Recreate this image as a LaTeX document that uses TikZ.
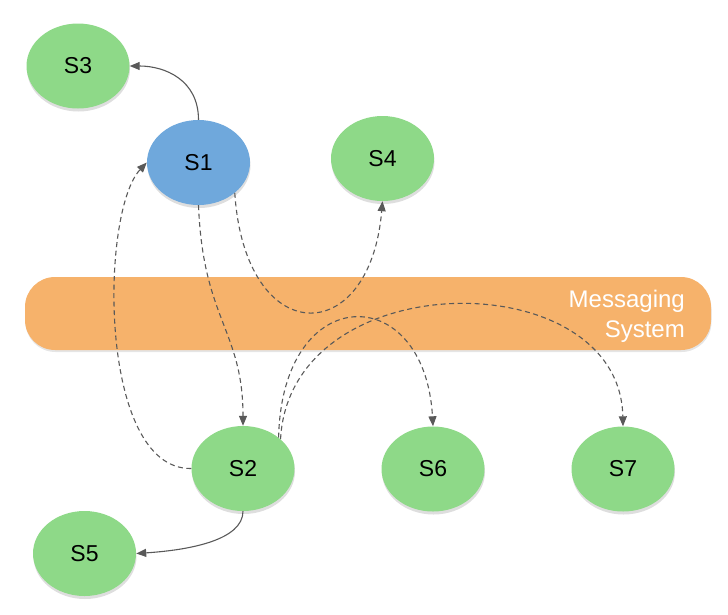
\documentclass[tikz,border=0pt]{standalone}
\usepackage{fontspec}
\setmainfont{Liberation Sans}
\usetikzlibrary{arrows.meta,shadows,shapes.geometric}
\definecolor{sgreen}{HTML}{8ED988}
\definecolor{sblue}{HTML}{6FA8DC}
\definecolor{sorange}{HTML}{F6B26B}
\definecolor{sline}{HTML}{595959}
\tikzset{
  svc/.style={ellipse, minimum width=103pt, minimum height=85pt, inner sep=0pt,
    fill=sgreen, font=\fontsize{23}{27}\selectfont,
    drop shadow={shadow xshift=0.5pt, shadow yshift=-3pt, opacity=0.13, fill=black}},
  conn/.style={draw=sline, line width=1.1pt, -{Triangle[length=10pt,width=8pt]}},
  dconn/.style={conn, dash pattern=on 5pt off 3.5pt},
}
\begin{document}
\begin{tikzpicture}[x=1pt,y=-1pt]
\useasboundingbox (0,0) rectangle (728,614);
% messaging bar
\node[draw=none, fill=sorange, rounded corners=30pt, minimum width=686pt, minimum height=73pt,
  inner sep=0pt, drop shadow={shadow xshift=0.5pt, shadow yshift=-2pt, opacity=0.1, fill=black}]
  (bus) at (368,313.5) {};
\node[anchor=base east, align=right, text=white, inner sep=0pt,
  font=\fontsize{24}{30}\selectfont] (buslabel) at (685,337.7) {Messaging\\System};
% services
\node[svc] (S3) at (78,66) {S3};
\node[svc, fill=sblue] (S1) at (198.5,162.5) {S1};
\node[svc] (S4) at (382.5,158.5) {S4};
\node[svc] (S2) at (243,468.5) {S2};
\node[svc] (S6) at (433,469) {S6};
\node[svc] (S7) at (623,469) {S7};
\node[svc] (S5) at (84.5,553.5) {S5};
% connectors
\draw[conn] (S1.north) .. controls (198.5,80) and (165,66) .. (S3.east);
\draw[conn] (S2.south) .. controls (243,540) and (190,550) .. (S5.east);
\draw[dconn] (S2.west) .. controls (98,470) and (100,212) .. (S1.west);
\draw[dconn] (S1.south) .. controls (203,320) and (243,330) .. (S2.north);
\draw[dconn] (S1.-40) .. controls (245,350) and (370,350) .. (S4.south);
\draw[dconn] (S2.41) .. controls (282,280) and (425,280) .. (S6.north);
\draw[dconn] (S2.38) .. controls (290,262) and (620,262) .. (S7.north);
\end{tikzpicture}
\end{document}
